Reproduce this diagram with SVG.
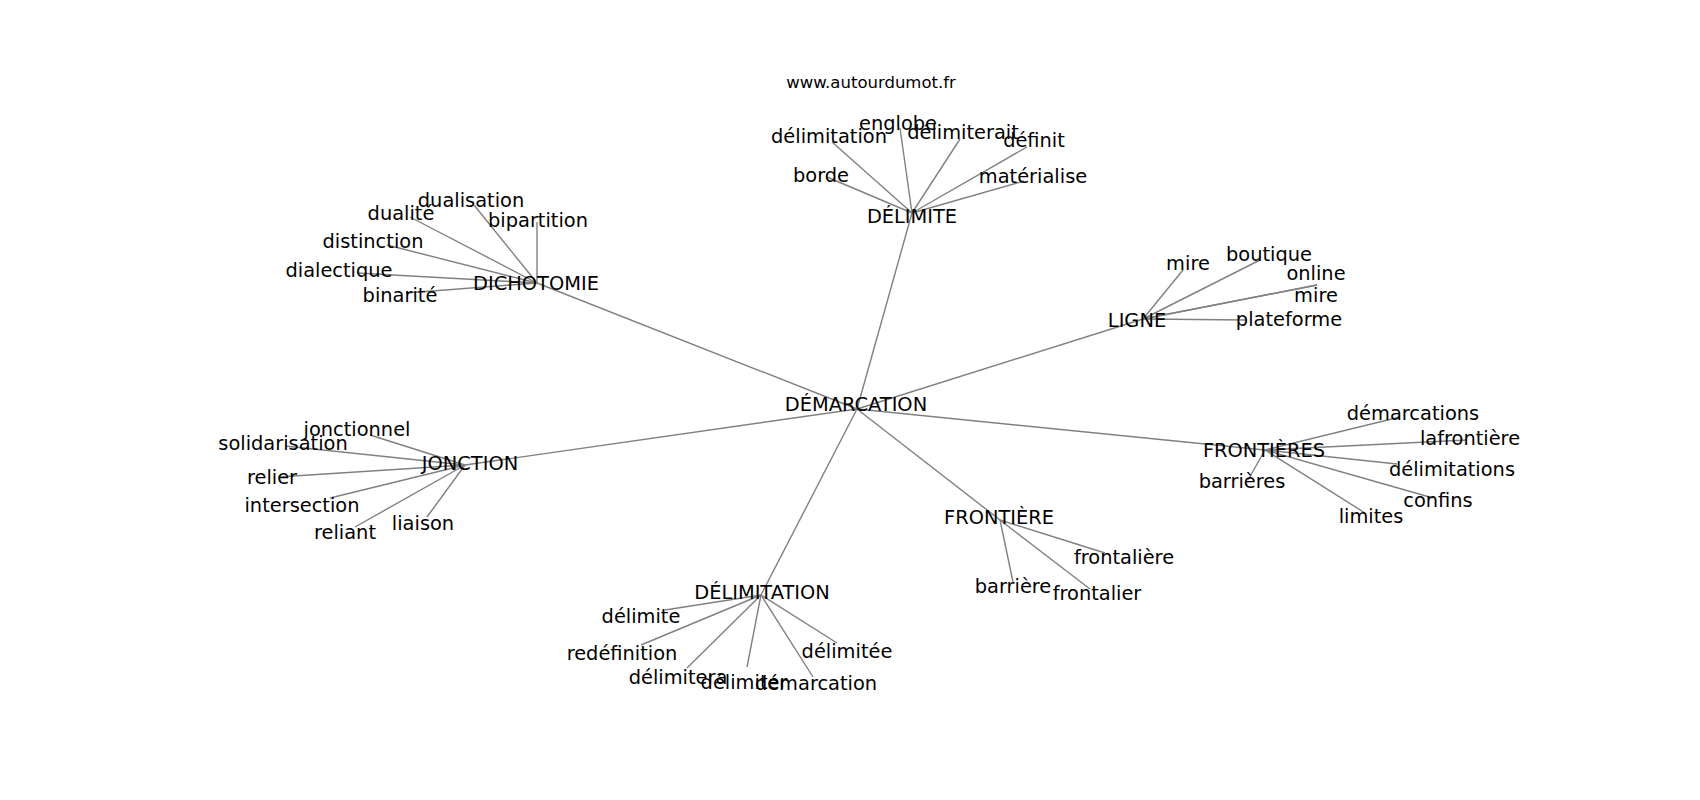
<svg xmlns="http://www.w3.org/2000/svg" width="1700" height="800" viewBox="0 0 1700 800">
<style>
text{font-family:"DejaVu Sans","Liberation Sans",sans-serif;fill:#000;text-anchor:middle}
.lbl{font-size:19.4px}
.title{font-size:16.5px}
#edges line{stroke:#808080;stroke-width:1.4;fill:none}
</style>
<rect width="1700" height="800" fill="#fff"/>
<text class="title" x="871" y="88">www.autourdumot.fr</text>
<g id="edges">
<!-- hub edges -->
<line x1="857" y1="409" x2="912" y2="213"/>
<line x1="857" y1="409" x2="537" y2="283"/>
<line x1="857" y1="409" x2="1143" y2="319"/>
<line x1="857" y1="409" x2="1265" y2="450"/>
<line x1="857" y1="409" x2="465" y2="465"/>
<line x1="857" y1="409" x2="761" y2="595"/>
<line x1="857" y1="409" x2="1000" y2="520"/>
<!-- DÉLIMITE -->
<line x1="912" y1="213" x2="832" y2="142"/>
<line x1="912" y1="213" x2="900" y2="128"/>
<line x1="912" y1="213" x2="960" y2="139"/>
<line x1="912" y1="213" x2="1027" y2="147"/>
<line x1="912" y1="213" x2="827" y2="177"/>
<line x1="912" y1="213" x2="1024" y2="181"/>
<!-- DICHOTOMIE -->
<line x1="537" y1="283" x2="474" y2="205"/>
<line x1="537" y1="283" x2="410" y2="217"/>
<line x1="537" y1="283" x2="537" y2="222"/>
<line x1="537" y1="283" x2="387" y2="245"/>
<line x1="537" y1="283" x2="357" y2="273"/>
<line x1="537" y1="283" x2="406" y2="293"/>
<!-- LIGNE -->
<line x1="1143" y1="319" x2="1183" y2="270"/>
<line x1="1143" y1="319" x2="1260" y2="260"/>
<line x1="1143" y1="319" x2="1317" y2="285"/>
<line x1="1143" y1="319" x2="1317" y2="285"/>
<line x1="1143" y1="319" x2="1246" y2="320"/>
<!-- FRONTIÈRES -->
<line x1="1265" y1="450" x2="1400" y2="417"/>
<line x1="1265" y1="450" x2="1467" y2="440"/>
<line x1="1265" y1="450" x2="1397" y2="464"/>
<line x1="1265" y1="450" x2="1433" y2="498"/>
<line x1="1265" y1="450" x2="1365" y2="513"/>
<line x1="1265" y1="450" x2="1248" y2="480"/>
<!-- FRONTIÈRE -->
<line x1="1000" y1="520" x2="1105" y2="553"/>
<line x1="1000" y1="520" x2="1013" y2="582"/>
<line x1="1000" y1="520" x2="1090" y2="589"/>
<!-- JONCTION -->
<line x1="465" y1="465" x2="370" y2="435"/>
<line x1="465" y1="465" x2="285" y2="446"/>
<line x1="465" y1="465" x2="278" y2="477"/>
<line x1="465" y1="465" x2="330" y2="498"/>
<line x1="465" y1="465" x2="355" y2="527"/>
<line x1="465" y1="465" x2="427" y2="517"/>
<!-- DÉLIMITATION -->
<line x1="761" y1="595" x2="665" y2="610"/>
<line x1="761" y1="595" x2="641" y2="645"/>
<line x1="761" y1="595" x2="687" y2="668"/>
<line x1="761" y1="595" x2="747" y2="667"/>
<line x1="761" y1="595" x2="813" y2="677"/>
<line x1="761" y1="595" x2="837" y2="643"/>
</g>
<g id="n-demarcation"><text class="lbl" x="856" y="411">DÉMARCATION</text></g>
<g id="n-delimite"><text class="lbl" x="912" y="223">DÉLIMITE</text></g>
<g id="n-delimite-delimitation"><text class="lbl" x="829" y="143">délimitation</text></g>
<g id="n-delimite-englobe"><text class="lbl" x="898" y="130">englobe</text></g>
<g id="n-delimite-delimiterait"><text class="lbl" x="963" y="139">délimiterait</text></g>
<g id="n-delimite-definit"><text class="lbl" x="1034" y="147">définit</text></g>
<g id="n-delimite-borde"><text class="lbl" x="821" y="182">borde</text></g>
<g id="n-delimite-materialise"><text class="lbl" x="1033" y="183">matérialise</text></g>
<g id="n-dichotomie"><text class="lbl" x="536" y="290">DICHOTOMIE</text></g>
<g id="n-dich-dualisation"><text class="lbl" x="471" y="207">dualisation</text></g>
<g id="n-dich-dualite"><text class="lbl" x="401" y="220">dualité</text></g>
<g id="n-dich-bipartition"><text class="lbl" x="538" y="227">bipartition</text></g>
<g id="n-dich-distinction"><text class="lbl" x="373" y="248">distinction</text></g>
<g id="n-dich-dialectique"><text class="lbl" x="339" y="277">dialectique</text></g>
<g id="n-dich-binarite"><text class="lbl" x="400" y="302">binarité</text></g>
<g id="n-ligne"><text class="lbl" x="1137" y="327">LIGNE</text></g>
<g id="n-ligne-mire1"><text class="lbl" x="1188" y="270">mire</text></g>
<g id="n-ligne-boutique"><text class="lbl" x="1269" y="261">boutique</text></g>
<g id="n-ligne-online"><text class="lbl" x="1316" y="280">online</text></g>
<g id="n-ligne-mire2"><text class="lbl" x="1316" y="302">mire</text></g>
<g id="n-ligne-plateforme"><text class="lbl" x="1289" y="326">plateforme</text></g>
<g id="n-frontieres"><text class="lbl" x="1264" y="457">FRONTIÈRES</text></g>
<g id="n-fs-demarcations"><text class="lbl" x="1413" y="420">démarcations</text></g>
<g id="n-fs-lafrontiere"><text class="lbl" x="1470" y="445">lafrontière</text></g>
<g id="n-fs-delimitations"><text class="lbl" x="1452" y="476">délimitations</text></g>
<g id="n-fs-confins"><text class="lbl" x="1438" y="507">confins</text></g>
<g id="n-fs-limites"><text class="lbl" x="1371" y="523">limites</text></g>
<g id="n-fs-barrieres"><text class="lbl" x="1242" y="488">barrières</text></g>
<g id="n-frontiere"><text class="lbl" x="999" y="524">FRONTIÈRE</text></g>
<g id="n-f-frontaliere"><text class="lbl" x="1124" y="564">frontalière</text></g>
<g id="n-f-barriere"><text class="lbl" x="1013" y="593">barrière</text></g>
<g id="n-f-frontalier"><text class="lbl" x="1097" y="600">frontalier</text></g>
<g id="n-jonction"><text class="lbl" x="470" y="470">JONCTION</text></g>
<g id="n-j-jonctionnel"><text class="lbl" x="357" y="436">jonctionnel</text></g>
<g id="n-j-solidarisation"><text class="lbl" x="283" y="450">solidarisation</text></g>
<g id="n-j-relier"><text class="lbl" x="272" y="484">relier</text></g>
<g id="n-j-intersection"><text class="lbl" x="302" y="512">intersection</text></g>
<g id="n-j-reliant"><text class="lbl" x="345" y="539">reliant</text></g>
<g id="n-j-liaison"><text class="lbl" x="423" y="530">liaison</text></g>
<g id="n-delimitation"><text class="lbl" x="762" y="599">DÉLIMITATION</text></g>
<g id="n-dl-delimite"><text class="lbl" x="641" y="623">délimite</text></g>
<g id="n-dl-redefinition"><text class="lbl" x="622" y="660">redéfinition</text></g>
<g id="n-dl-delimitera"><text class="lbl" x="678" y="684">délimitera</text></g>
<g id="n-dl-delimiter"><text class="lbl" x="744" y="689">délimiter</text></g>
<g id="n-dl-demarcation"><text class="lbl" x="816" y="690">démarcation</text></g>
<g id="n-dl-delimitee"><text class="lbl" x="847" y="658">délimitée</text></g>
</svg>
